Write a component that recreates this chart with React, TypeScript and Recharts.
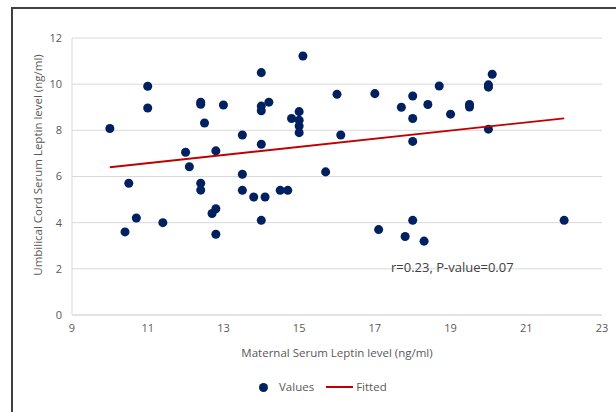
// Maternal vs cord leptin scatter with fitted line — recharts ScatterChart.

import { ScatterChart, Scatter, XAxis, YAxis, ZAxis, CartesianGrid, Label } from "recharts";

const xTicks = [9, 11, 13, 15, 17, 19, 21, 23];
const yTicks = [0, 2, 4, 6, 8, 10, 12];

// Maternal serum leptin (x) and umbilical cord leptin (y)
const maternal = [
  10.0, 11.0, 11.0, 12.0, 12.1, 12.4, 12.4, 12.5, 12.8, 13.0,
  13.5, 13.5, 14.0, 14.0, 14.0, 14.0, 15.1, 14.2, 14.8, 15.0,
  15.0, 15.0, 15.0, 16.0, 16.1, 15.7, 17.0, 17.7, 18.0, 18.0,
  18.0, 18.4, 18.7, 19.0, 19.5, 19.5, 20.0, 20.0, 20.1, 20.0,
  10.5, 10.7, 10.4, 11.4, 12.4, 12.4, 13.5, 13.8, 12.8, 12.7,
  12.8, 14.0, 14.1, 14.5, 14.7, 17.1, 17.8, 18.0, 18.3, 22.0,
];
const cord = [
  8.08, 9.91, 8.97, 7.05, 6.42, 9.22, 9.13, 8.32, 7.11, 9.1,
  7.8, 6.1, 10.5, 9.05, 8.85, 7.4, 11.22, 9.22, 8.51, 8.81,
  8.44, 8.19, 7.9, 9.56, 7.8, 6.2, 9.59, 9.0, 9.49, 8.51,
  7.52, 9.12, 9.92, 8.7, 9.12, 9.01, 9.87, 9.97, 10.43, 8.05,
  5.71, 4.2, 3.6, 4.0, 5.71, 5.41, 5.4, 5.11, 4.6, 4.4,
  3.5, 4.1, 5.11, 5.4, 5.4, 3.7, 3.4, 4.1, 3.2, 4.1,
];

// Fitted regression line endpoints
const fitX = [10, 22];
const fitY = [6.4, 8.52];

const NAVY = "#002060";
const RED = "#c00000";
const FONT = "'Open Sans', sans-serif";
const TEXT = "#595959";

const values = maternal.map((x, i) => ({ x, y: cord[i] }));
const fitted = fitX.map((x, i) => ({ x, y: fitY[i] }));

export default function App() {
  return (
    <div
      style={{
        position: "absolute",
        left: 0,
        top: 0,
        width: 616,
        height: 412,
        overflow: "hidden",
        background: "#fff",
        fontFamily: FONT,
      }}
    >
      {/* chart frame, cut off at right and bottom */}
      <div
        style={{
          position: "absolute",
          left: 11,
          top: 7,
          width: 700,
          height: 500,
          border: "2px solid #404040",
          boxSizing: "border-box",
        }}
      />
      <div style={{ position: "absolute", left: 0, top: 0 }}>
        <ScatterChart width={616} height={412} margin={{ top: 38, right: 14, bottom: 67, left: 0 }}>
          <CartesianGrid horizontal vertical={false} stroke="#d9d9d9" />
          <XAxis
            type="number"
            dataKey="x"
            domain={[9, 23]}
            ticks={xTicks}
            height={30}
            tickLine={false}
            axisLine={{ stroke: "#d9d9d9" }}
            tickMargin={3}
            tick={{ fontSize: 11, fill: TEXT, fontFamily: FONT }}
          >
            <Label
              content={({ viewBox }: any) => (
                <text
                  x={viewBox.x + viewBox.width / 2}
                  y={352}
                  textAnchor="middle"
                  dominantBaseline="central"
                  fontSize={11.5}
                  fill={TEXT}
                  fontFamily={FONT}
                >
                  Maternal Serum Leptin level (ng/ml)
                </text>
              )}
            />
          </XAxis>
          <YAxis
            type="number"
            dataKey="y"
            domain={[0, 12]}
            ticks={yTicks}
            width={72}
            tickLine={false}
            axisLine={{ stroke: "#d9d9d9" }}
            tickMargin={4}
            tick={{ fontSize: 11, fill: TEXT, fontFamily: FONT }}
          >
            <Label
              content={() => (
                <text
                  x={37}
                  y={165}
                  transform="rotate(-90, 37, 165)"
                  textAnchor="middle"
                  dominantBaseline="central"
                  fontSize={11.5}
                  fill={TEXT}
                  fontFamily={FONT}
                >
                  Umbilical Cord Serum Leptin level (ng/ml)
                </text>
              )}
            />
          </YAxis>
          <ZAxis range={[60, 60]} />
          <Scatter name="Values" data={values} fill={NAVY} isAnimationActive={false} />
          <Scatter
            name="Fitted"
            data={fitted}
            line={{ stroke: RED, strokeWidth: 1.8 }}
            shape={() => null}
            isAnimationActive={false}
          />
        </ScatterChart>
      </div>

      {/* regression annotation */}
      <div
        style={{
          position: "absolute",
          left: 391,
          top: 257,
          fontSize: 13,
          color: "#404040",
          whiteSpace: "nowrap",
          lineHeight: "20px",
        }}
      >
        r=0.23, P-value=0.07
      </div>

      {/* legend */}
      <div
        style={{
          position: "absolute",
          left: 259,
          top: 377,
          display: "flex",
          alignItems: "center",
          fontSize: 11.5,
          color: TEXT,
          lineHeight: "20px",
        }}
      >
        <span style={{ width: 9, height: 9, borderRadius: "50%", background: NAVY, display: "inline-block" }} />
        <span style={{ marginLeft: 11 }}>Values</span>
        <span style={{ width: 27, height: 2, background: RED, display: "inline-block", marginLeft: 12 }} />
        <span style={{ marginLeft: 3 }}>Fitted</span>
      </div>
    </div>
  );
}
